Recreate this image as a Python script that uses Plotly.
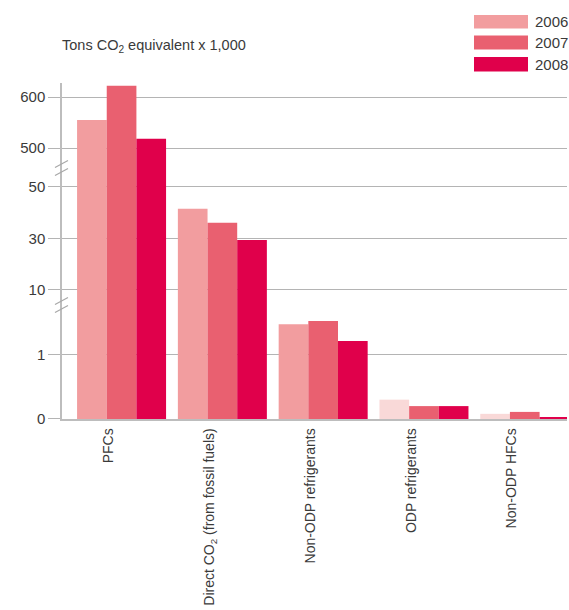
import plotly.graph_objects as go

# Emission sources and yearly values (tons CO2 equivalent x 1,000)
categories = [
    "PFCs",
    "Direct CO<sub>2</sub> (from fossil fuels)",
    "Non-ODP refrigerants",
    "ODP refrigerants",
    "Non-ODP HFCs",
]
years = ["2006", "2007", "2008"]
values_2006 = [555, 41.5, 1.47, 0.30, 0.08]
values_2007 = [622, 36.0, 1.52, 0.20, 0.11]
values_2008 = [518, 29.4, 1.21, 0.20, 0.02]

# Broken value axis: three linear segments stacked on top of each other
seg_ranges = [[0, 1.767], [4.19, 57.25], [460.8, 627.5]]
seg_ticks = [[0, 1], [10, 30, 50], [500, 600]]
seg_domains = [[0, 0.3393], [0.3393, 0.747], [0.747, 1.0]]

C06, C06_LIGHT, C07, C08 = "#F29D9F", "#F9D9D8", "#E96070", "#E0004B"
colors_2006 = [C06, C06, C06, C06_LIGHT, C06_LIGHT]
series = [
    ("2006", values_2006, colors_2006),
    ("2007", values_2007, C07),
    ("2008", values_2008, C08),
]

GRID = "#b4b4b4"
AXIS = "#bdbdbd"
TEXT = "#3a3a3a"
FONT = "Liberation Sans, Arial, Helvetica, sans-serif"

fig = go.Figure()
yaxes = ["y", "y2", "y3"]
for ya in yaxes:
    for name, vals, col in series:
        fig.add_trace(go.Bar(
            x=categories, y=vals, name=name, yaxis=ya, xaxis="x",
            marker=dict(color=col, line=dict(width=0)),
            offsetgroup=name, showlegend=False,
        ))

layout = dict(
    width=569, height=610,
    margin=dict(l=62, r=2, t=83, b=191, autoexpand=False),
    paper_bgcolor="white", plot_bgcolor="white",
    barmode="group", bargap=0.117, bargroupgap=0,
    font=dict(family=FONT, size=14.5, color=TEXT),
    xaxis=dict(
        range=[-0.591, 4.419], tickangle=-90, ticks="",
        ticklabelshift=-13, ticklabelstandoff=2, automargin=False,
        showline=True, linecolor=AXIS, linewidth=1.5,
        showgrid=False, anchor="y",
        tickfont=dict(size=14, color=TEXT),
    ),
)
for i, ya in enumerate(yaxes):
    key = "yaxis" if i == 0 else f"yaxis{i + 1}"
    layout[key] = dict(
        domain=seg_domains[i], range=seg_ranges[i],
        tickmode="array", tickvals=seg_ticks[i],
        ticktext=[str(v) for v in seg_ticks[i]],
        ticks="outside", ticklen=12, tickcolor=GRID, tickwidth=1,
        showgrid=True, gridcolor=GRID, gridwidth=1,
        showline=True, linecolor=AXIS, linewidth=1.5,
        zeroline=False, anchor="x", fixedrange=True, automargin=False,
        tickfont=dict(size=15, color=TEXT),
    )
fig.update_layout(**layout)

# Break marks on the value axis
shapes = []
for ref in ["y2 domain", "y3 domain"]:
    for off in (4, -4):
        shapes.append(dict(
            type="line", xref="paper", xsizemode="pixel", xanchor=0,
            x0=-7, x1=6, yref=ref, ysizemode="pixel", yanchor=0,
            y0=off - 3.5, y1=off + 3.5,
            line=dict(color="#a8a8a8", width=1.2),
        ))

# Legend swatches and labels in the top right corner
legend_rows = [(15, 28.5), (35.5, 49.5), (57, 71.5)]
legend_colors = [C06, C07, C08]
annotations = []
for (top, bottom), col, yr in zip(legend_rows, legend_colors, years):
    shapes.append(dict(
        type="rect", xref="paper", xsizemode="pixel", xanchor=1,
        x0=-93, x1=-39, yref="paper", ysizemode="pixel", yanchor=1,
        y0=83 - top, y1=83 - bottom,
        fillcolor=col, line=dict(width=0),
    ))
    annotations.append(dict(
        text=yr, xref="paper", x=1, xshift=-34, xanchor="left",
        yref="paper", y=1, yshift=83 - (top + bottom) / 2, yanchor="middle",
        showarrow=False, font=dict(size=15, color=TEXT),
    ))

annotations.append(dict(
    text="Tons CO<sub>2</sub> equivalent x 1,000",
    xref="paper", x=0, xshift=-2, xanchor="left",
    yref="paper", y=1, yshift=37, yanchor="middle",
    showarrow=False, font=dict(size=14.5, color=TEXT),
))

fig.update_layout(shapes=shapes, annotations=annotations)
fig.write_html("out.html")
